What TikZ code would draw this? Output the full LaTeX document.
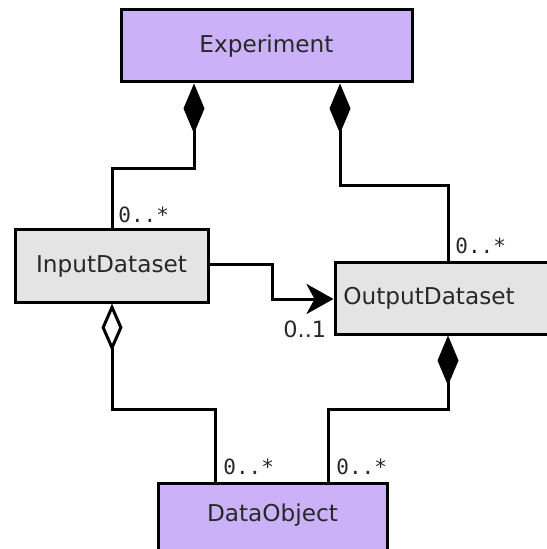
\documentclass[tikz,border=0pt]{standalone}
\usepackage{fontspec}
\setmainfont{DejaVu Sans}
\newfontfamily\labelmono{DejaVu Sans Mono}
\usetikzlibrary{arrows.meta}
\definecolor{purplefill}{RGB}{203,178,248}
\definecolor{greyfill}{RGB}{228,228,228}
\definecolor{txt}{RGB}{40,40,40}
\tikzset{
  classbox/.style={draw=black, line width=1.5pt, rectangle, inner sep=0pt},
  classtext/.style={text=txt, font=\fontsize{11.6}{14}\selectfont, inner sep=0pt},
  conn/.style={line width=1.5pt, black},
  mult/.style={text=txt, font=\labelmono\fontsize{10.5}{12}\selectfont, anchor=west, inner sep=0pt},
  multsans/.style={text=txt, font=\fontsize{11.2}{13}\selectfont, anchor=west, inner sep=0pt},
  comp/.style={{Diamond[length=25pt,width=10.5pt]}-},
  aggr/.style={{Diamond[open,fill=white,length=24pt,width=10.5pt]}-},
  nav/.style={-{Stealth[length=13.5pt,width=15pt,inset=4pt]}},
}
\begin{document}
\begin{tikzpicture}[x=0.5pt,y=-0.5pt]
\useasboundingbox (0,0) rectangle (546,549);
% boxes
\node[classbox, fill=purplefill, minimum width=145.5pt, minimum height=36pt] (exp) at (266.5,46) {};
\node[classtext] (expt) at (exp.center) {Experiment};
\node[classbox, fill=greyfill, minimum width=96.5pt, minimum height=36pt] (inp) at (111.5,266) {};
\node[classtext] (inpt) at (inp.center) {InputDataset};
\node[classbox, fill=greyfill, minimum width=108.5pt, minimum height=35.5pt] (out) at (443.5,298.5) {};
\node[classtext] (outt) at (429,298.5) {OutputDataset};
\node[classbox, fill=purplefill, minimum width=114.5pt, minimum height=36pt] (dob) at (272.5,519) {};
\node[classtext] (dobt) at (272.5,515) {DataObject};
% connectors
\coordinate (e1) at (194,169);
\coordinate (e2) at (112,169);
\draw[conn, comp] (exp.south -| e1) -- (e1) -- (e2) -- (inp.north -| e2);
\coordinate (f1) at (340,186);
\coordinate (f2) at (448,186);
\draw[conn, comp] (exp.south -| f1) -- (f1) -- (f2) -- (out.north -| f2);
\coordinate (a0) at (208,265);
\coordinate (a1) at (272,265);
\coordinate (a2) at (272,299);
\draw[conn, nav] (inp.east |- a0) -- (a1) -- (a2) -- (out.west |- a2);
\coordinate (g1) at (112,409);
\coordinate (g2) at (215,409);
\draw[conn, aggr] (inp.south -| g1) -- (g1) -- (g2) -- (dob.north -| g2);
\coordinate (h1) at (448,409);
\coordinate (h2) at (328,409);
\draw[conn, comp] (out.south -| h1) -- (h1) -- (h2) -- (dob.north -| h2);
% multiplicities
\node[mult] (m1) at (118,215) {0..*};
\node[mult] (m2) at (455,246) {0..*};
\node[multsans] (m3) at (283,329) {0..1};
\node[mult] (m4) at (223,467) {0..*};
\node[mult] (m5) at (336,467) {0..*};
\end{tikzpicture}
\end{document}
